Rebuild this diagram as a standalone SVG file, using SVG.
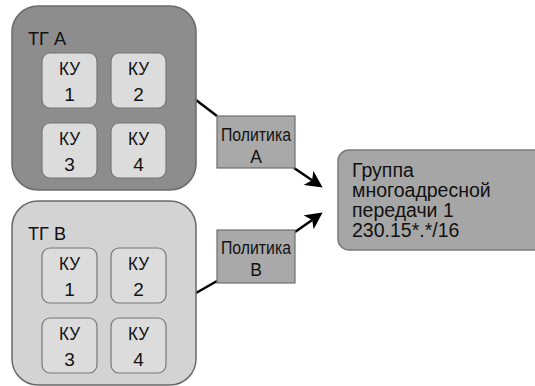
<svg xmlns="http://www.w3.org/2000/svg" width="535" height="386" viewBox="0 0 535 386">
  <style>
    text { font-family: "Liberation Sans", Arial, sans-serif; fill: #111; }
    .tg-a { fill: #8d8d8d; stroke: #6a6a6a; stroke-width: 1.5; }
    .tg-b { fill: #d3d3d3; stroke: #6a6a6a; stroke-width: 1.5; }
    .ku { fill: #dcdcdc; stroke: #777; stroke-width: 1.2; }
    .policy { fill: #a9a9a9; stroke: #6e6e6e; stroke-width: 1.2; }
    .group { fill: #a6a6a6; stroke: #7a7a7a; stroke-width: 1.5; }
    .lbl { font-size: 18.5px; }
    .ku-t { font-size: 19px; text-anchor: middle; }
    .pol-t { font-size: 17.5px; text-anchor: middle; }
    .grp-t { font-size: 19.5px; }
    .conn { fill: none; stroke: #000; stroke-width: 2.5; }
  </style>
  <defs>
    <marker id="arrow" viewBox="0 0 16 16" refX="4" refY="8" markerWidth="17" markerHeight="17" markerUnits="userSpaceOnUse" orient="auto">
      <path d="M0,0 L16,8 L0,16 L4,8 Z" fill="#000"/>
    </marker>
  </defs>

  <!-- connectors -->
  <g id="connectors">
    <line class="conn" x1="196" y1="100" x2="217" y2="116"/>
    <line class="conn" x1="196" y1="293" x2="217" y2="281"/>
    <line class="conn" x1="294" y1="168" x2="312.1" y2="180.3" marker-end="url(#arrow)"/>
    <line class="conn" x1="295" y1="232" x2="312.2" y2="219.9" marker-end="url(#arrow)"/>
  </g>

  <!-- group A with its four units -->
  <g id="tg-a">
    <rect class="tg-a" x="12" y="6" width="184" height="184" rx="26"/>
    <text class="lbl" x="28" y="45" textLength="38" lengthAdjust="spacingAndGlyphs">ТГ А</text>
    <g id="tg-a-ku1">
      <rect class="ku" x="42" y="53" width="55" height="55" rx="8"/>
      <text class="ku-t" x="69.5" y="75" textLength="21" lengthAdjust="spacingAndGlyphs">КУ</text>
      <text class="ku-t" x="69.5" y="101">1</text>
    </g>
    <g id="tg-a-ku2">
      <rect class="ku" x="111" y="53" width="55" height="55" rx="8"/>
      <text class="ku-t" x="138.5" y="75" textLength="21" lengthAdjust="spacingAndGlyphs">КУ</text>
      <text class="ku-t" x="138.5" y="101">2</text>
    </g>
    <g id="tg-a-ku3">
      <rect class="ku" x="42" y="123" width="55" height="55" rx="8"/>
      <text class="ku-t" x="69.5" y="145" textLength="21" lengthAdjust="spacingAndGlyphs">КУ</text>
      <text class="ku-t" x="69.5" y="171">3</text>
    </g>
    <g id="tg-a-ku4">
      <rect class="ku" x="111" y="123" width="55" height="55" rx="8"/>
      <text class="ku-t" x="138.5" y="145" textLength="21" lengthAdjust="spacingAndGlyphs">КУ</text>
      <text class="ku-t" x="138.5" y="171">4</text>
    </g>
  </g>

  <!-- group B with its four units -->
  <g id="tg-b">
    <rect class="tg-b" x="12" y="201" width="184" height="184" rx="26"/>
    <text class="lbl" x="28" y="240" textLength="38" lengthAdjust="spacingAndGlyphs">ТГ В</text>
    <g id="tg-b-ku1">
      <rect class="ku" x="42" y="248" width="55" height="55" rx="8"/>
      <text class="ku-t" x="69.5" y="270" textLength="21" lengthAdjust="spacingAndGlyphs">КУ</text>
      <text class="ku-t" x="69.5" y="296">1</text>
    </g>
    <g id="tg-b-ku2">
      <rect class="ku" x="111" y="248" width="55" height="55" rx="8"/>
      <text class="ku-t" x="138.5" y="270" textLength="21" lengthAdjust="spacingAndGlyphs">КУ</text>
      <text class="ku-t" x="138.5" y="296">2</text>
    </g>
    <g id="tg-b-ku3">
      <rect class="ku" x="42" y="318" width="55" height="55" rx="8"/>
      <text class="ku-t" x="69.5" y="340" textLength="21" lengthAdjust="spacingAndGlyphs">КУ</text>
      <text class="ku-t" x="69.5" y="366">3</text>
    </g>
    <g id="tg-b-ku4">
      <rect class="ku" x="111" y="318" width="55" height="55" rx="8"/>
      <text class="ku-t" x="138.5" y="340" textLength="21" lengthAdjust="spacingAndGlyphs">КУ</text>
      <text class="ku-t" x="138.5" y="366">4</text>
    </g>
  </g>

  <!-- policies -->
  <g id="policy-a">
    <rect class="policy" x="217" y="116" width="78" height="52"/>
    <text class="pol-t" x="256" y="141" textLength="70" lengthAdjust="spacingAndGlyphs">Политика</text>
    <text class="pol-t" x="256" y="163">А</text>
  </g>
  <g id="policy-b">
    <rect class="policy" x="217" y="230" width="78" height="53"/>
    <text class="pol-t" x="256" y="254" textLength="70" lengthAdjust="spacingAndGlyphs">Политика</text>
    <text class="pol-t" x="256" y="276">В</text>
  </g>

  <!-- multicast group -->
  <g id="mcast-group">
    <rect class="group" x="338" y="150" width="210" height="100" rx="11"/>
    <text class="grp-t" x="352" y="177">Группа</text>
    <text class="grp-t" x="352" y="197">многоадресной</text>
    <text class="grp-t" x="352" y="217">передачи 1</text>
    <text class="grp-t" x="352" y="237">230.15*.*/16</text>
  </g>
</svg>
